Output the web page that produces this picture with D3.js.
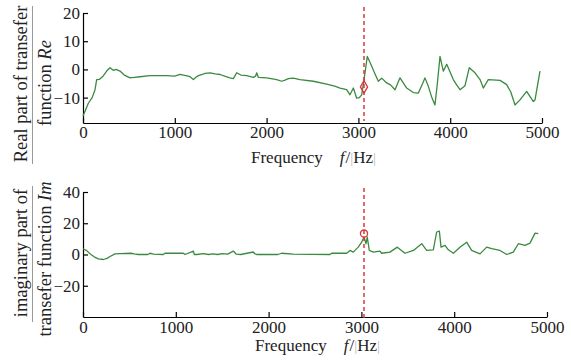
<!DOCTYPE html>
<html><head><meta charset="utf-8">
<script src="https://cdn.jsdelivr.net/npm/d3@7"></script>
<style>
html,body{margin:0;padding:0;background:#fff;}
svg{display:block;}
svg text{font-family:"Liberation Serif","Times New Roman",serif !important;}
</style></head>
<body><svg id="c" width="571" height="362"></svg>
<script>
// ---- data ----
const reFreq = [0,20,58,100,131,149,180,218,260,294,330,360,403,450,512,560,621,730,912,1000,1057,1120,1166,1202,1230,1257,1300,1329,1384,1440,1493,1550,1601,1637,1660,1674,1720,1783,1856,1880,1892,1910,2001,2110,2164,2200,2237,2291,2364,2509,2655,2750,2800,2872,2908,2945,2981,3010,3036,3072,3097,3144,3180,3217,3254,3308,3350,3399,3453,3526,3598,3653,3700,3725,3762,3800,3834,3860,3889,3925,3962,4034,4070,4107,4161,4208,4270,4325,4361,4415,4543,4615,4660,4706,4760,4833,4906,4924,4978];
const reVal  = [-16.5,-15,-12,-10,-7.2,-3.6,-3.5,-2.4,-0.5,0.6,-0.3,0,-0.6,-2,-3,-2.8,-2.6,-2.2,-2.2,-2.4,-1.8,-2.2,-2.6,-3.6,-2.8,-2.2,-1.8,-1.4,-1.2,-1.6,-1.8,-2.5,-3,-3.3,-2,-1.2,-2,-2.2,-2.8,-2.4,-1.2,-2.8,-3,-3.6,-4.2,-3.8,-3.3,-3.1,-3.6,-4.2,-5.2,-6,-6.6,-7.2,-9,-6.6,-10.2,-10,-9,-1.2,4.6,1.2,-1.5,-4.2,-3.1,-4.8,-5.5,-7.2,-3,-6.6,-8.2,-8.4,-5,-3,-6,-10,-12.6,-5,4.6,-0.6,1.8,-3.6,-5.5,-7.2,-5.8,0.6,-1.2,-3.6,-6.6,-3.6,-3.9,-5.4,-8,-12.6,-10.8,-7.8,-11.4,-10.8,-0.6];
const imFreq = [0,40,75,120,165,219,260,291,345,400,517,550,596,700,722,760,865,883,1081,1099,1189,1200,1225,1300,1350,1400,1450,1500,1560,1620,1650,1700,1835,1850,1871,2100,2140,2266,2661,2680,2841,2877,2912,2966,3003,3028,3050,3063,3085,3128,3200,3218,3308,3387,3470,3560,3650,3703,3775,3811,3840,3858,3901,3937,3991,4062,4134,4188,4278,4350,4404,4494,4566,4637,4691,4763,4817,4871,4906];
const imVal  = [3.7,2.5,0.5,-1.5,-2.8,-3.2,-2.5,-1.3,0.4,0.6,0.8,0.4,0,0,0.8,0.3,0,0.8,0.8,0,2.2,0,0,0.5,0,0.4,0,0.6,0.2,2.2,0.3,0,1.6,0.5,0,0,0.8,0.2,0,0.8,0.8,2.6,1.5,4.7,7.9,11.2,6.9,11.2,2.6,1.5,2.2,0.8,1.5,4.7,0.8,2.6,6.9,2.6,3,14.4,15,4.7,5.8,3,0.8,4.7,7.9,2.6,0.4,4.7,3.7,2.6,0,1.5,6.9,5.8,7.3,13.7,13.3];
const xTicks = [0,1000,2000,3000,4000,5000];
const reTicks = [-10,0,10,20];
const imTicks = [-20,0,20,40];
const reMark = {f:3061, v:-6.2};
const imMark = {f:3028, v:13.4};

const svg = d3.select("#c");
const green = "#3a8a3f", red = "#d8383c";

function panel(o){
  const x = d3.scaleLinear().domain([0,5000]).range(o.xr);
  const y = d3.scaleLinear().domain(o.yd).range(o.yr);
  const g = svg.append("g");
  const ax = g.append("g").attr("transform",`translate(0,${o.yr[0]})`)
    .call(d3.axisBottom(x).tickValues(xTicks).tickSizeInner(-5).tickSizeOuter(0).tickPadding(o.xpad).tickFormat(d3.format("d")));
  const ay = g.append("g").attr("transform",`translate(${o.xr[0]},0)`)
    .call(d3.axisLeft(y).tickValues(o.ticks).tickSizeInner(-5).tickSizeOuter(0).tickPadding(3));
  [ax,ay].forEach(a=>{
    a.attr("font-family",null).attr("font-size",null);
    a.selectAll("path,line").attr("stroke","#000").attr("stroke-width",1.2);
    a.selectAll("text").style("font-size","17px").attr("fill","#222");
  });
  const line = d3.line().x((d,i)=>x(o.f[i])).y(d=>y(d));
  g.append("path").datum(o.v).attr("d",line).attr("fill","none")
    .attr("stroke",green).attr("stroke-width",1.3).attr("stroke-linejoin","round");
  g.append("line").attr("x1",x(o.mark.f)).attr("x2",x(o.mark.f))
    .attr("y1",o.dash[0]).attr("y2",o.dash[1])
    .attr("stroke",red).attr("stroke-width",1.5).attr("stroke-dasharray","4,3");
  const sym = d3.symbol().type(o.sym).size(o.symSize);
  g.append("path").attr("d",sym).attr("transform",`translate(${x(o.mark.f)},${y(o.mark.v)})`)
    .attr("fill","none").attr("stroke",red).attr("stroke-width",1.3);
  // x label
  const t = g.append("text").attr("x",o.lx).attr("y",o.ly).style("font-size","17px").attr("fill","#222");
  t.append("tspan").text("Frequency");
  t.append("tspan").attr("dx",17).attr("font-style","italic").text("f");
  t.append("tspan").attr("dx",1).text("/");
  t.append("tspan").attr("fill","#bbb").style("font-size","15px").text("|");
  t.append("tspan").text("Hz");
  t.append("tspan").attr("fill","#bbb").style("font-size","15px").text("|");
  // y label
  const yl = o.ylab;
  g.append("text").attr("transform",`translate(27,${yl.c1}) rotate(-90)`).attr("text-anchor","middle")
    .style("font-size","18.5px").attr("fill","#222").text(yl.l1);
  g.append("line").attr("x1",32.5).attr("x2",32.5).attr("y1",yl.b[0]).attr("y2",yl.b[1])
    .attr("stroke","#999").attr("stroke-width",1);
  const t2 = g.append("text").attr("transform",`translate(51,${yl.c2}) rotate(-90)`).attr("text-anchor","middle")
    .style("font-size","18.5px").attr("fill","#222");
  t2.append("tspan").text(yl.l2);
  t2.append("tspan").attr("font-style","italic").text(yl.it);
}

panel({xr:[83,542], yd:[-19,20], yr:[123,13], ticks:reTicks, f:reFreq, v:reVal, mark:reMark,
  dash:[7,121], sym:d3.symbolDiamond, symSize:45, xpad:3, lx:251, ly:163,
  ylab:{l1:"Real part of transefer", c1:84, b:[6,164], l2:"function ", it:"Re", c2:83}});
panel({xr:[83,547], yd:[-40,40], yr:[317,192], ticks:imTicks, f:imFreq, v:imVal, mark:imMark,
  dash:[188,320], sym:d3.symbolCircle, symSize:40, xpad:4, lx:255, ly:351,
  ylab:{l1:"imaginary part of", c1:253, b:[186,322], l2:"transefer function ", it:"Im", c2:259}});
</script></body></html>
